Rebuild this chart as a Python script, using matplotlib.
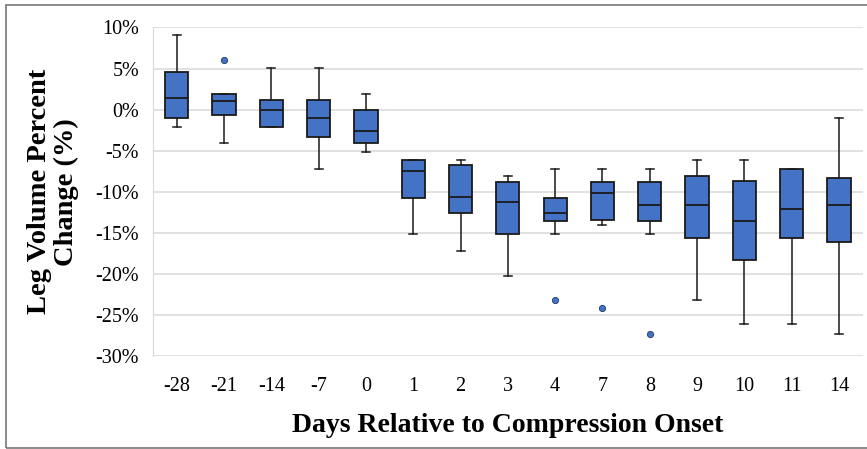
import matplotlib.pyplot as plt
from matplotlib.patches import Rectangle
from matplotlib.ticker import FuncFormatter

# days relative to compression onset
days = ["-28", "-21", "-14", "-7", "0", "1", "2", "3", "4", "7", "8", "9", "10", "11", "14"]

# box stats, in percent
whislo = [-2.1, -4.1, -2.1, -7.2, -5.2, -15.2, -17.2, -20.2, -15.2, -14.1, -15.2, -23.2, -26.1, -26.1, -27.3]
q1 = [-1.0, -0.6, -2.1, -3.3, -4.1, -10.8, -12.6, -15.2, -13.6, -13.4, -13.6, -15.6, -18.3, -15.6, -16.1]
med = [1.4, 1.06, 0.0, -1.0, -2.6, -7.5, -10.6, -11.2, -12.6, -10.1, -11.6, -11.6, -13.6, -12.1, -11.6]
q3 = [4.55, 1.95, 1.2, 1.2, 0.0, -6.1, -6.8, -8.8, -10.8, -8.8, -8.8, -8.1, -8.7, -7.2, -8.3]
whishi = [9.1, 1.95, 5.1, 5.1, 1.95, -6.1, -6.1, -8.05, -7.2, -7.2, -7.2, -6.1, -6.1, -7.2, -1.0]
fliers = [[], [6.0], [], [], [], [], [], [], [-23.2], [-24.1], [-27.3], [], [], [], []]

stats = []
for i in range(len(days)):
    stats.append({
        "whislo": whislo[i] / 100, "q1": q1[i] / 100, "med": med[i] / 100,
        "q3": q3[i] / 100, "whishi": whishi[i] / 100,
        "fliers": [f / 100 for f in fliers[i]], "label": days[i],
    })

plt.rcParams['font.family'] = ['Liberation Serif', 'DejaVu Serif']

fig = plt.figure(figsize=(8.67, 4.49), dpi=100)
ax = fig.add_axes([0.1765, 0.2071, 0.8185, 0.7317])

blue = "#4472C4"
ax.bxp(stats, positions=range(len(days)), widths=0.49, capwidths=0.17,
       patch_artist=True,
       boxprops=dict(facecolor=blue, edgecolor="#1a1a1a", linewidth=1.3),
       medianprops=dict(color="#1a1a1a", linewidth=1.3),
       whiskerprops=dict(color="#1a1a1a", linewidth=1.1),
       capprops=dict(color="#1a1a1a", linewidth=1.1),
       flierprops=dict(marker="o", markerfacecolor=blue, markeredgecolor="#1f3864",
                       markersize=4.5, markeredgewidth=0.6))

ax.set_xlim(-0.5, len(days) - 0.5)
ax.set_ylim(-0.30, 0.10)
ax.set_yticks([0.10, 0.05, 0, -0.05, -0.10, -0.15, -0.20, -0.25, -0.30])
ax.yaxis.set_major_formatter(FuncFormatter(lambda v, p: f"{round(v * 100):d}%"))
ax.grid(axis="y", color="#d9d9d9", linewidth=1.1)
ax.set_axisbelow(True)
for s in ["top", "right", "bottom"]:
    ax.spines[s].set_visible(False)
ax.spines["left"].set_color("#d9d9d9")
ax.tick_params(length=0, labelsize=14.5, pad=10)
ax.tick_params(axis="x", pad=15)

ax.set_xlabel("Days Relative to Compression Onset", fontsize=20, fontweight="bold")
ax.xaxis.set_label_coords(0.5, -0.172)
ax.set_ylabel("Leg Volume Percent\nChange (%)", fontsize=20.5, fontweight="bold",
              linespacing=1.1)
ax.yaxis.set_label_coords(-0.104, 0.5)

# outer border
fig.patches.append(Rectangle((6 / 867, 1 / 449), 1.0, 443 / 449, transform=fig.transFigure,
                             fill=False, edgecolor="#777777", linewidth=1.2))

fig.savefig("out.png", dpi=100)
